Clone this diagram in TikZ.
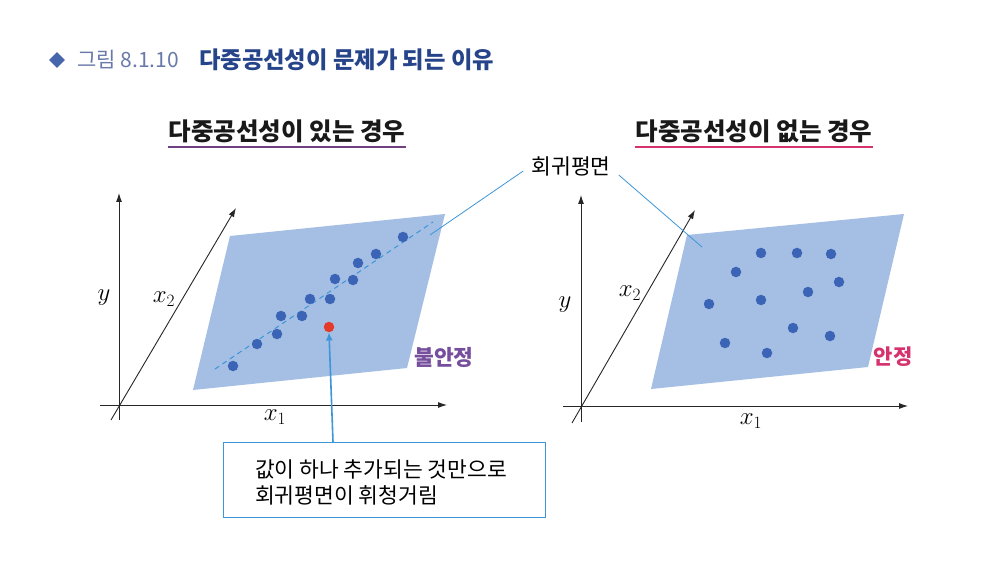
\documentclass[tikz,border=0pt]{standalone}
\usepackage{fontspec}
\newfontfamily\kr{Noto Sans CJK KR}
\usetikzlibrary{arrows.meta,calc}
\definecolor{planec}{RGB}{164,191,227}
\definecolor{dotc}{RGB}{60,100,182}
\definecolor{redc}{RGB}{228,58,42}
\definecolor{leadc}{RGB}{60,150,215}
\definecolor{navy}{RGB}{38,68,138}
\definecolor{figc}{RGB}{105,122,170}
\definecolor{diac}{RGB}{72,102,172}
\definecolor{purp}{RGB}{118,78,158}
\definecolor{pinkc}{RGB}{214,50,110}
\definecolor{ulpurp}{RGB}{112,64,128}
\tikzset{
  axis/.style={draw=black!85, line width=0.9pt, -{Latex[length=9pt,width=6pt]}},
  dot/.style={circle, fill=dotc, inner sep=0pt, minimum size=10.5pt},
  reddot/.style={circle, fill=redc, inner sep=0pt, minimum size=10.5pt},
  plane/.style={fill=planec},
  lead/.style={draw=leadc, line width=0.8pt},
  heading/.style={font=\kr\bfseries\fontsize{24.5}{28}\selectfont, text=black!90, inner sep=0pt},
  lbl/.style={font=\fontsize{24}{28}\selectfont, inner sep=0pt},
  krtxt/.style={font=\kr\fontsize{21.5}{26}\selectfont},
}
\begin{document}
\begin{tikzpicture}[x=1pt,y=-1pt]
\useasboundingbox[fill=white] (0,0) rectangle (999,564);

% ---- title ----
\node[fill=diac, minimum size=11pt, inner sep=0pt, rotate=45, shape=rectangle] (dia) at (57,60) {};
\node[anchor=west, font=\kr\fontsize{21}{25}\selectfont, text=figc, inner sep=0pt] (fig) at (77,60) {그림 8.1.10};
\node[anchor=west, font=\kr\bfseries\fontsize{23.3}{27}\selectfont, text=navy, inner sep=0pt] (title) at (199,60) {다중공선성이 문제가 되는 이유};

% ---- headings ----
\node[heading] (hL) at (287,131) {다중공선성이 있는 경우};
\draw[ulpurp, line width=1.6pt] (hL.south west |- 0,147) coordinate (uL1) -- (hL.south east |- 0,147) coordinate (uL2);
\node[heading] (hR) at (754,131) {다중공선성이 없는 경우};
\draw[pinkc, line width=1.6pt] (hR.south west |- 0,147) coordinate (uR1) -- (hR.south east |- 0,147) coordinate (uR2);

% ================= LEFT PANEL =================
\fill[plane] (230,236) -- (445,214) -- (407,368) -- (193,390) -- cycle;
\draw[axis] (119,420) -- (119,193);
\draw[axis] (100,405) -- (447,405);
\draw[axis] (111,420) -- (236,208);
\node[lbl] (yL) at (104,298) {$y$};
\node[lbl] (x2L) at (164,299) {$x_2$};
\node[lbl] (x1L) at (275,417) {$x_1$};

\coordinate (dsA) at (215,369);
\coordinate (dsB) at (433,222);
\draw[leadc, line width=1pt, dash pattern=on 5pt off 4pt] (dsA) -- (dsB);

\foreach \px/\py [count=\i] in {233/366,257/344,277/334,281/316,302/316,310/299,330/299,335/279,353/280,358/263,376/254,403/237}
  \node[dot] (dL\i) at (\px,\py) {};
\node[reddot] (red) at (329,327) {};

\node[font=\kr\bfseries\fontsize{21.5}{26}\selectfont, text=purp, inner sep=0pt] (unst) at (444,357) {불안정};

% ================= RIGHT PANEL =================
\fill[plane] (687,235) -- (904,214) -- (868,367) -- (651,389) -- cycle;
\draw[axis] (581,422) -- (581,195);
\draw[axis] (563,406) -- (908,406);
\draw[axis] (572,423) -- (695,210);
\node[lbl] (yR) at (565,305) {$y$};
\node[lbl] (x2R) at (630,293) {$x_2$};
\node[lbl] (x1R) at (751,421) {$x_1$};

\foreach \px/\py [count=\i] in {761/253,797/253,831/254,736/272,839/282,709/304,761/300,808/292,793/328,830/336,725/343,767/353}
  \node[dot] (dR\i) at (\px,\py) {};

\node[font=\kr\bfseries\fontsize{21}{25}\selectfont, text=pinkc, inner sep=0pt] (st) at (893,357) {안정};

% ---- regression plane label and leaders ----
\node[krtxt, inner sep=0pt] (rp) at (571,166) {회귀평면};
\coordinate (pL) at (430,235);
\coordinate (pR) at (702,247);
\draw[lead] ($(rp.west)+(-8,5)$) -- (pL);
\draw[lead] ($(rp.east)+(8,9)$) -- (pR);

% ---- callout box ----
\node[draw=leadc, line width=1.3pt, minimum width=322pt, minimum height=75pt, anchor=north west] (box) at (223,442) {};
\node[krtxt, anchor=west, inner sep=0pt, align=left] (t1) at (255,469) {값이 하나 추가되는 것만으로};
\node[krtxt, anchor=west, inner sep=0pt, align=left] (t2) at (255,495) {회귀평면이 휘청거림};
\coordinate (cb) at (333,442);
\draw[leadc, line width=1.6pt, -{Latex[length=8pt,width=7pt]}] (cb) -- (red.south);
\end{tikzpicture}
\end{document}
